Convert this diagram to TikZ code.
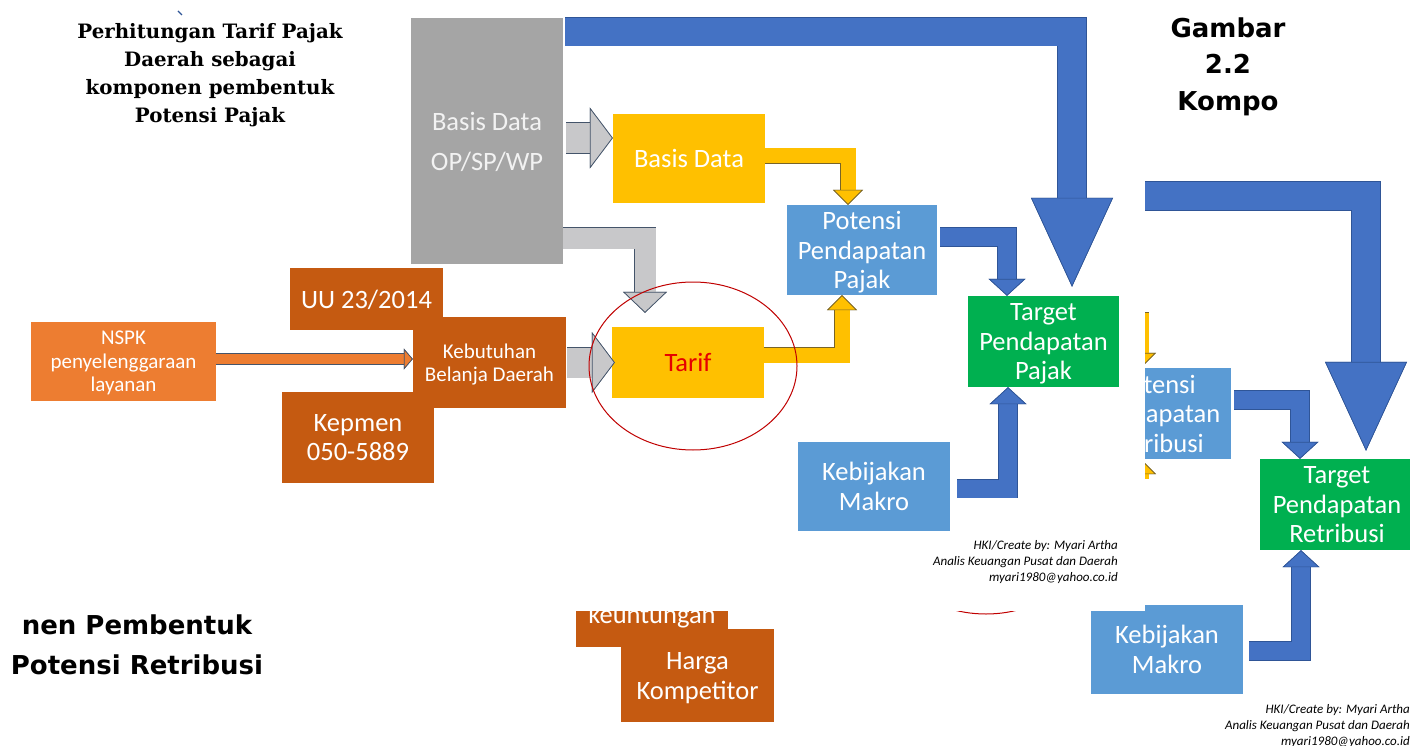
\documentclass[tikz,border=0pt]{standalone}
\usepackage{fontspec}
\setmainfont{Carlito}
\newfontfamily\slabfont{DejaVu Serif}
\newfontfamily\headfont{DejaVu Sans}
\usetikzlibrary{arrows.meta}
\definecolor{basisgray}{RGB}{165,165,165}
\definecolor{arrowgray}{RGB}{200,200,202}
\definecolor{grayedge}{RGB}{68,84,106}
\definecolor{taxyellow}{RGB}{255,192,0}
\definecolor{yellowedge}{RGB}{120,100,40}
\definecolor{boxblue}{RGB}{91,155,213}
\definecolor{arrowblue}{RGB}{68,114,196}
\definecolor{blueedge}{RGB}{47,85,151}
\definecolor{targetgreen}{RGB}{0,176,80}
\definecolor{nspkorange}{RGB}{237,125,49}
\definecolor{rustorange}{RGB}{197,90,17}
\definecolor{ringred}{RGB}{192,0,0}
\definecolor{tarifred}{RGB}{230,0,0}

\begin{document}
\begin{tikzpicture}[x=1pt, y=-1pt,
    panel/.style={rectangle, inner sep=0pt, align=center, text=white, text depth=0pt, minimum width=152pt, font=\fontsize{26.5}{29.5}\selectfont},
    smallpanel/.style={panel, font=\fontsize{21}{23.5}\selectfont},
    blockarrow/.style n args={6}{line join=miter, draw=#1, line width=#3,
      -{Triangle[width=#5, length=#6, line width=0.7pt, color=#2, fill=#1]},
      preaction={draw=#2, line width=#4, -{Triangle[width=#5, length=#6, line width=0pt, color=#2, fill=#2]}}},
    bigarrow/.style={blockarrow={arrowblue}{blueedge}{28pt}{29.4pt}{82pt}{89pt}},
    bluearrow/.style={blockarrow={arrowblue}{blueedge}{18pt}{19.4pt}{37pt}{17pt}},
    grayarrow/.style={blockarrow={arrowgray}{grayedge}{30pt}{31.4pt}{61pt}{23pt}},
    yellowarrow/.style={blockarrow={taxyellow}{yellowedge}{15pt}{16.4pt}{30pt}{15pt}},
    redring/.style={draw=ringred, line width=1pt},
    credit/.style={anchor=east, align=right, inner sep=0pt, font=\fontsize{13}{16}\selectfont\itshape}
]
\useasboundingbox (0,0) rectangle (1410,746);

% second picture (retribusi), mostly hidden behind the first
\node[font=\headfont\bfseries\fontsize{26}{36.5}\selectfont, align=center, inner sep=0pt] (gambar) at (1228,66.5) {Gambar\\2.2\\Kompo};
\node[font=\headfont\bfseries\fontsize{26}{40}\selectfont, align=center, inner sep=0pt] (retrititle) at (137,645) {nen Pembentuk\\Potensi Retribusi};
\node[panel, fill=boxblue, minimum width=150pt, minimum height=91pt] (potr) at (1156,413.5) {Potensi\\Pendapatan\\Retribusi};
\node[panel, fill=targetgreen, minimum width=154pt, minimum height=91pt] (targetr) at (1337,504.5) {Target\\Pendapatan\\Retribusi};
\node[panel, fill=boxblue, minimum height=89pt] (makror) at (1167,649.5) {Kebijakan\\Makro};
\node[panel, fill=rustorange, anchor=base, text height=20pt, text depth=24pt] (untung) at (652,623) {keuntungan};
\node[panel, fill=rustorange, minimum width=153pt, minimum height=93pt, font=\fontsize{26.5}{30}\selectfont] (harga) at (697.5,675.5) {Harga\\Kompetitor};
\coordinate (topr) at (1100,196);
\coordinate (yldown) at (1100,320);
\coordinate (ylup) at (1141,479);
\draw[bigarrow] (topr) -| ([xshift=29pt,yshift=8pt]targetr.north);
\draw[yellowarrow] (yldown) -| ([xshift=-15pt]potr.north);
\draw[yellowarrow] (ylup) -- ([xshift=-15pt]potr.south);
\draw[bluearrow] ([xshift=3pt,yshift=13.5pt]potr.east) -| ([xshift=-37pt]targetr.north);
\draw[bluearrow] ([xshift=6pt,yshift=-1.5pt]makror.east) -| ([xshift=-36pt]targetr.south);
\draw[redring] (986,530) ellipse [x radius=104pt, y radius=84pt];
\node[credit] (creditr) at (1410,726) {HKI/Create by: Myari Artha\\Analis Keuangan Pusat dan Daerah\\myari1980@yahoo.co.id};

% first picture (pajak) on top
\fill[white] (0,0) rectangle (1145,611);
\node[font=\slabfont\bfseries\fontsize{19.8}{28}\selectfont, align=center, inner sep=0pt] (judul) at (210,75) {Perhitungan Tarif Pajak\\Daerah sebagai\\komponen pembentuk\\Potensi Pajak};
\draw[blueedge, line width=1.2pt] (178,11) -- (182,15);

\node[panel, fill=basisgray, text=white!95!black, minimum height=246pt, font=\fontsize{26.5}{40}\selectfont] (basisop) at (487,141) {Basis Data\\OP/SP/WP};
\node[panel, fill=taxyellow, minimum height=89pt] (basis) at (689,158.5) {Basis Data};
\node[panel, fill=taxyellow, text=tarifred, minimum height=71pt] (tarif) at (688,362.5) {Tarif};
\node[panel, fill=boxblue, minimum width=150pt, minimum height=90pt] (potp) at (862,250) {Potensi\\Pendapatan\\Pajak};
\node[panel, fill=targetgreen, minimum width=151pt, minimum height=91pt] (targetp) at (1043.5,341.5) {Target\\Pendapatan\\Pajak};
\node[panel, fill=boxblue, minimum height=89pt] (makrop) at (874,486.5) {Kebijakan\\Makro};
\node[smallpanel, fill=nspkorange, minimum width=185pt, minimum height=79pt] (nspk) at (123.5,361.5) {NSPK\\penyelenggaraan\\layanan};
\node[smallpanel, fill=rustorange, minimum width=153pt, minimum height=91pt] (belanja) at (489.5,362.5) {Kebutuhan\\Belanja Daerah};
\node[panel, fill=rustorange, minimum width=153pt, minimum height=62pt] (uu) at (366.5,299) {UU 23/2014};
\node[panel, fill=rustorange, minimum height=91pt] (kepmen) at (358,437.5) {Kepmen\\050-5889};

\draw[bigarrow] ([xshift=2pt,yshift=-14pt]basisop.north east) -| ([xshift=28.5pt,yshift=9pt]targetp.north);
\draw[grayarrow] ([xshift=3pt,yshift=3pt]basisop.east) -- ([yshift=20.5pt]basis.west);
\draw[blockarrow={arrowgray}{grayedge}{21pt}{22.4pt}{44pt}{21pt}] ([yshift=26pt]basisop.south east) -| ([xshift=-43pt,yshift=14pt]tarif.north);
\draw[grayarrow] ([xshift=1pt]belanja.east) -- ([xshift=3pt]tarif.west);
\draw[yellowarrow] ([yshift=2.5pt]basis.east) -| ([xshift=-14pt]potp.north);
\draw[yellowarrow] ([yshift=7.5pt]tarif.east) -| ([xshift=-20pt]potp.south);
\draw[bluearrow] ([xshift=3pt,yshift=13pt]potp.east) -| ([xshift=-36.5pt]targetp.north);
\draw[bluearrow] ([xshift=7pt,yshift=-2pt]makrop.east) -| ([xshift=-35.5pt]targetp.south);
\draw[blockarrow={nspkorange}{grayedge}{10pt}{11.4pt}{21pt}{9pt}] ([yshift=2.5pt]nspk.east) -- ([yshift=3.5pt]belanja.west);
\node[credit] (creditp) at (1118,562) {HKI/Create by: Myari Artha\\Analis Keuangan Pusat dan Daerah\\myari1980@yahoo.co.id};
\draw[redring] ([xshift=5pt,yshift=-3.5pt]tarif.center) ellipse [x radius=104pt, y radius=84pt];
\end{tikzpicture}
\end{document}
